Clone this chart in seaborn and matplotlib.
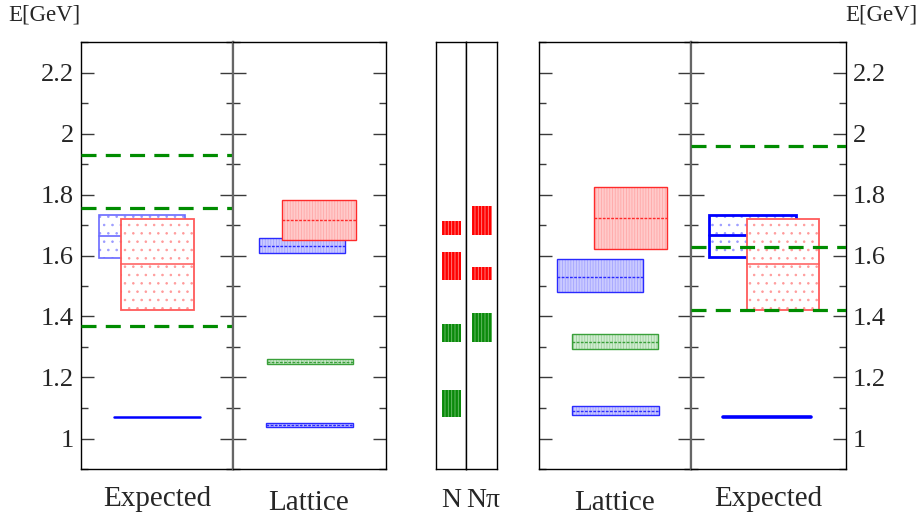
import matplotlib
matplotlib.use('Agg')
import matplotlib.pyplot as plt
from matplotlib.patches import Rectangle
from matplotlib.ticker import MultipleLocator, FuncFormatter
import seaborn as sns
import pandas as pd

sns.set_theme(style='white')
plt.rcParams['font.family'] = ['Liberation Serif', 'DejaVu Serif']
plt.rcParams['hatch.linewidth'] = 0.6

# ---- data (energies in GeV) ----
# Expected panels: boxes given as (low, centre, high)
exp_left_blue = [1.593, 1.665, 1.733]
exp_left_red = [1.420, 1.571, 1.720]
exp_left_line = 1.070
exp_left_dashed = [1.929, 1.756, 1.370]

exp_right_blue = [1.596, 1.667, 1.734]
exp_right_red = [1.420, 1.571, 1.720]
exp_right_line = 1.072
exp_right_dashed = [1.959, 1.628, 1.420]

# Lattice levels
lat_left_lo = [1.038, 1.243, 1.609, 1.651]
lat_left_mid = [1.045, 1.252, 1.632, 1.717]
lat_left_hi = [1.052, 1.260, 1.656, 1.782]
lat_left_kind = ['blue', 'green', 'blue', 'red']

lat_right_lo = [1.077, 1.292, 1.479, 1.622]
lat_right_mid = [1.091, 1.318, 1.530, 1.723]
lat_right_hi = [1.105, 1.342, 1.587, 1.825]
lat_right_kind = ['blue', 'green', 'blue', 'red']

# N and N-pi levels
n_lo = [1.072, 1.316, 1.520, 1.667]
n_hi = [1.158, 1.374, 1.612, 1.712]
n_kind = ['green', 'green', 'red', 'red']
npi_lo = [1.316, 1.520, 1.667]
npi_hi = [1.412, 1.563, 1.762]
npi_kind = ['green', 'red', 'red']

# ---- layout (x extents as fraction of panel width) ----
exp_left_x = {'blue': (0.118, 0.684), 'red': (0.263, 0.743), 'line': (0.215, 0.783)}
exp_right_x = {'blue': (0.116, 0.676), 'red': (0.359, 0.825), 'line': (0.206, 0.774)}
lat_left_x = [(0.216, 0.786), (0.220, 0.784), (0.168, 0.732), (0.318, 0.802)]
lat_right_x = [(0.215, 0.787), (0.217, 0.785), (0.118, 0.686), (0.362, 0.844)]

lat_style = {
    'red': dict(face='#ffcaca', hatch='#ffa8a8', edge='#ff2a2a'),
    'blue': dict(face='#cacaff', hatch='#a4a4ff', edge='#2a2aff'),
    'green': dict(face='#d0ecd0', hatch='#9ed09e', edge='#3aa03a'),
}
mid_style = {
    'red': dict(face='#ff0000', hatch='#ff8c8c'),
    'green': dict(face='#0a8a0a', hatch='#70c070'),
}

W, H = 923, 521
fig = plt.figure(figsize=(W / 100, H / 100), dpi=100)


def add_ax(x0, x1):
    return fig.add_axes([x0 / W, (H - 469) / H, (x1 - x0) / W, 427 / H])


def setup(ax, ticks=True, label=None, divider=None):
    ax.set_xlim(0, 1)
    ax.set_ylim(0.9, 2.3)
    ax.set_xticks([])
    ax.set_facecolor('white')
    for s in ax.spines.values():
        s.set_visible(True)
        s.set_color('black')
        s.set_linewidth(1.0)
    if divider:
        ax.spines[divider].set_color('#666666')
        ax.spines[divider].set_linewidth(1.6)
    if ticks:
        ax.yaxis.set_major_locator(MultipleLocator(0.2))
        ax.yaxis.set_minor_locator(MultipleLocator(0.1))
        ax.yaxis.set_major_formatter(FuncFormatter(lambda v, p: f'{v:g}'))
        ax.tick_params(axis='y', which='both', direction='in', left=True, right=True,
                       color='#3a3a3a', width=1.0, labelsize=19, pad=5,
                       labelleft=(label == 'left'), labelright=(label == 'right'))
        ax.tick_params(axis='y', which='major', length=9.5)
        ax.tick_params(axis='y', which='minor', length=5)
    else:
        ax.set_yticks([])


def expected_panel(ax, blue, red, line, dashed, xs, edge_blue, lw_blue, lw_line):
    # blue box
    x0, x1 = xs['blue']
    ax.add_patch(Rectangle((x0, blue[0]), x1 - x0, blue[2] - blue[0], facecolor='white',
                           edgecolor='#9a9aff', hatch='..', lw=0, zorder=2))
    ax.add_patch(Rectangle((x0, blue[0]), x1 - x0, blue[2] - blue[0], fill=False,
                           edgecolor=edge_blue, lw=lw_blue, zorder=2))
    ax.plot([x0, x1], [blue[1], blue[1]], color=edge_blue, lw=lw_blue, zorder=2)
    # red box
    x0, x1 = xs['red']
    ax.add_patch(Rectangle((x0, red[0]), x1 - x0, red[2] - red[0], facecolor='white',
                           edgecolor='#ff9a9a', hatch='..', lw=0, zorder=3))
    ax.add_patch(Rectangle((x0, red[0]), x1 - x0, red[2] - red[0], fill=False,
                           edgecolor='#ff5a5a', lw=1.3, zorder=3))
    ax.plot([x0, x1], [red[1], red[1]], color='#ff5a5a', lw=1.1, zorder=3)
    # single level
    x0, x1 = xs['line']
    ax.plot([x0, x1], [line, line], color='#0000ff', lw=lw_line, zorder=3)
    # dashed thresholds
    for v in dashed:
        df = pd.DataFrame({'x': [0, 1], 'E': [v, v]})
        sns.lineplot(data=df, x='x', y='E', ax=ax, color='#008c00', lw=2.3,
                     linestyle=(0, (4.7, 2.9)), zorder=4, legend=False)
    ax.set_xlabel('')
    ax.set_ylabel('')


def lattice_panel(ax, lo, mid, hi, kind, xs):
    for i in range(len(lo)):
        st = lat_style[kind[i]]
        x0, x1 = xs[i]
        z = 3 if kind[i] == 'red' else 2
        ax.add_patch(Rectangle((x0, lo[i]), x1 - x0, hi[i] - lo[i], facecolor=st['face'],
                               edgecolor=st['hatch'], hatch='||||||', lw=0, zorder=z))
        ax.add_patch(Rectangle((x0, lo[i]), x1 - x0, hi[i] - lo[i], fill=False,
                               edgecolor=st['edge'], lw=1.0, zorder=z))
        ax.plot([x0, x1], [mid[i], mid[i]], color=st['edge'], lw=1.0,
                ls=(0, (2, 1)), zorder=z)


def levels_panel(ax, lo, hi, kind):
    for i in range(len(lo)):
        st = mid_style[kind[i]]
        ax.add_patch(Rectangle((0.19, lo[i]), 0.65, hi[i] - lo[i], facecolor=st['face'],
                               edgecolor=st['hatch'], hatch='|||||', lw=0, zorder=2))


ax_e1 = add_ax(81, 233)
ax_l1 = add_ax(233, 386)
ax_n = add_ax(436, 466)
ax_np = add_ax(466, 497)
ax_l2 = add_ax(539, 691)
ax_e2 = add_ax(691, 846)

expected_panel(ax_e1, exp_left_blue, exp_left_red, exp_left_line, exp_left_dashed,
               exp_left_x, '#6a6aff', 1.2, 1.8)
lattice_panel(ax_l1, lat_left_lo, lat_left_mid, lat_left_hi, lat_left_kind, lat_left_x)
levels_panel(ax_n, n_lo, n_hi, n_kind)
levels_panel(ax_np, npi_lo, npi_hi, npi_kind)
lattice_panel(ax_l2, lat_right_lo, lat_right_mid, lat_right_hi, lat_right_kind, lat_right_x)
expected_panel(ax_e2, exp_right_blue, exp_right_red, exp_right_line, exp_right_dashed,
               exp_right_x, '#0000ff', 2.0, 2.6)

setup(ax_e1, label='left', divider='right')
setup(ax_l1, divider='left')
setup(ax_n, ticks=False)
setup(ax_np, ticks=False)
setup(ax_l2, divider='right')
setup(ax_e2, label='right', divider='left')


def ftext(x, y, s, **kw):
    fig.text(x / W, 1 - y / H, s, va='baseline', **kw)


ftext(8, 21, 'E[GeV]', ha='left', fontsize=16.5)
ftext(845, 21, 'E[GeV]', ha='left', fontsize=16.5)
ftext(157, 506, 'Expected', ha='center', fontsize=21)
ftext(309, 510, 'Lattice', ha='center', fontsize=21)
ftext(451, 507, 'N', ha='center', fontsize=20)
ftext(483, 507, 'Nπ', ha='center', fontsize=20)
ftext(615, 510, 'Lattice', ha='center', fontsize=21)
ftext(768, 506, 'Expected', ha='center', fontsize=21)

fig.savefig('out.png', dpi=100)
